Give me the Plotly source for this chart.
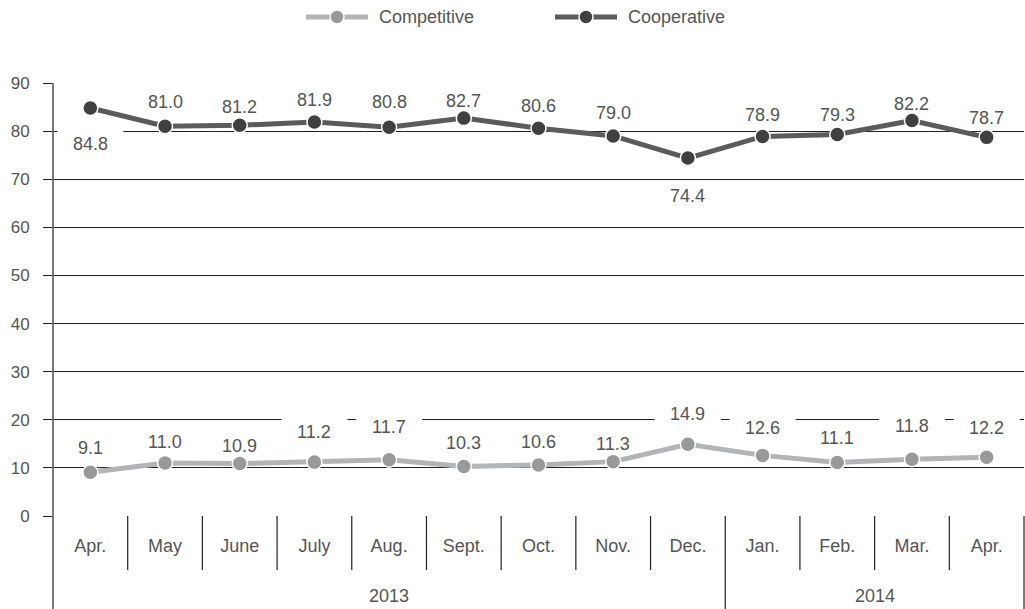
import plotly.graph_objects as go

# ---- data ----
months = ["Apr.", "May", "June", "July", "Aug.", "Sept.", "Oct.", "Nov.", "Dec.",
          "Jan.", "Feb.", "Mar.", "Apr."]
years = ["2013"] * 9 + ["2014"] * 4
competitive = [9.1, 11.0, 10.9, 11.2, 11.7, 10.3, 10.6, 11.3, 14.9, 12.6, 11.1, 11.8, 12.2]
cooperative = [84.8, 81.0, 81.2, 81.9, 80.8, 82.7, 80.6, 79.0, 74.4, 78.9, 79.3, 82.2, 78.7]

# label placement: pixel offset of each value label above (+) / below (-) its point
coop_label_shift = [-36, 24, 18, 22, 25, 17, 22, 23, -38, 21, 19, 17, 19]
comp_label_shift = [24, 21, 18, 30, 33, 23, 23, 18, 30, 27, 25, 33, 29]

# ---- styling ----
FONT = "Arial, 'Liberation Sans', sans-serif"
TEXT = "#555555"
GRID = "#222222"
COMP_LINE, COMP_MARK = "#b3b4b6", "#98999b"
COOP_LINE, COOP_MARK = "#5b5b5b", "#404040"

W, H = 1025, 609
ML, MR, MT, MB = 53, 1, 83, 93
PW, PH = W - ML - MR, H - MT - MB

x = list(range(len(months)))

fig = go.Figure()
fig.add_trace(go.Scatter(
    x=x, y=competitive, mode="lines+markers", name="Competitive",
    line=dict(color=COMP_LINE, width=5),
    marker=dict(color=COMP_MARK, size=15, line=dict(color="white", width=1.5)),
    hoverinfo="skip", showlegend=False))
fig.add_trace(go.Scatter(
    x=x, y=cooperative, mode="lines+markers", name="Cooperative",
    line=dict(color=COOP_LINE, width=5),
    marker=dict(color=COOP_MARK, size=15, line=dict(color="white", width=1.5)),
    hoverinfo="skip", showlegend=False))

shapes = []
annotations = []

# value labels with white boxes that interrupt the gridlines
for series, shifts in ((cooperative, coop_label_shift), (competitive, comp_label_shift)):
    for i, (v, s) in enumerate(zip(series, shifts)):
        shapes.append(dict(
            type="rect", layer="between", xref="x", yref="y",
            xsizemode="pixel", ysizemode="pixel", xanchor=i, yanchor=v,
            x0=-33, x1=33, y0=s - 11, y1=s + 15,
            fillcolor="white", line=dict(width=0)))
        annotations.append(dict(
            x=i, y=v, xref="x", yref="y", text=f"{v:.1f}", showarrow=False,
            yshift=s, xanchor="center", yanchor="middle",
            font=dict(family=FONT, size=18, color=TEXT)))

# category frame below the axis
month_depth = -54 / PH
full_depth = -MB / PH
for i in range(len(months) - 1):
    depth = full_depth if years[i] != years[i + 1] else month_depth
    shapes.append(dict(type="line", xref="x", yref="paper", x0=i + 0.5, x1=i + 0.5,
                       y0=0, y1=depth, line=dict(color=GRID, width=1.2)))
shapes.append(dict(type="line", xref="paper", yref="paper", x0=0, x1=0,
                   y0=1, y1=full_depth, line=dict(color=GRID, width=1.2)))
shapes.append(dict(type="line", xref="paper", yref="paper", x0=1, x1=1,
                   y0=0, y1=full_depth, line=dict(color=GRID, width=1.2)))

# year labels centred under their months
for yr in dict.fromkeys(years):
    idx = [i for i, y in enumerate(years) if y == yr]
    annotations.append(dict(
        x=sum(idx) / len(idx), y=-80 / PH, xref="x", yref="paper", text=yr,
        showarrow=False, xanchor="center", yanchor="middle",
        font=dict(family=FONT, size=18, color=TEXT)))

# legend drawn at the top
def px_x(p):
    return (p - ML) / PW

def px_y(p):
    return (H - MB - p) / PH

legend_y = px_y(17)
for name, lc, mc, x0 in (("Competitive", COMP_LINE, COMP_MARK, 306),
                         ("Cooperative", COOP_LINE, COOP_MARK, 555)):
    shapes.append(dict(type="line", xref="paper", yref="paper",
                       x0=px_x(x0), x1=px_x(x0 + 62), y0=legend_y, y1=legend_y,
                       line=dict(color=lc, width=5)))
    shapes.append(dict(type="circle", xref="paper", yref="paper",
                       xsizemode="pixel", ysizemode="pixel",
                       xanchor=px_x(x0 + 31), yanchor=legend_y,
                       x0=-7, x1=7, y0=-7, y1=7,
                       fillcolor=mc, line=dict(color="white", width=1.5)))
    annotations.append(dict(
        x=px_x(x0 + 71), y=legend_y, xref="paper", yref="paper", text=name,
        showarrow=False, xanchor="left", yanchor="middle",
        font=dict(family=FONT, size=18, color=TEXT)))

fig.update_layout(
    width=W, height=H, autosize=False,
    margin=dict(l=ML, r=MR, t=MT, b=MB, pad=0),
    paper_bgcolor="white", plot_bgcolor="white",
    showlegend=False,
    shapes=shapes, annotations=annotations,
    xaxis=dict(type="linear", range=[-0.5, len(months) - 0.5],
               tickmode="array", tickvals=x, ticktext=months,
               showgrid=False, zeroline=False, showline=False, ticks="",
               ticklabelstandoff=17,
               tickfont=dict(family=FONT, size=18, color=TEXT)),
    yaxis=dict(range=[0, 90], dtick=10, tick0=0,
               showgrid=True, gridcolor=GRID, gridwidth=1,
               zeroline=False, showline=False,
               ticks="outside", ticklen=9, tickcolor=GRID, tickwidth=1,
               ticklabelstandoff=10,
               tickfont=dict(family=FONT, size=17, color=TEXT)),
)

fig.write_html("out.html")
